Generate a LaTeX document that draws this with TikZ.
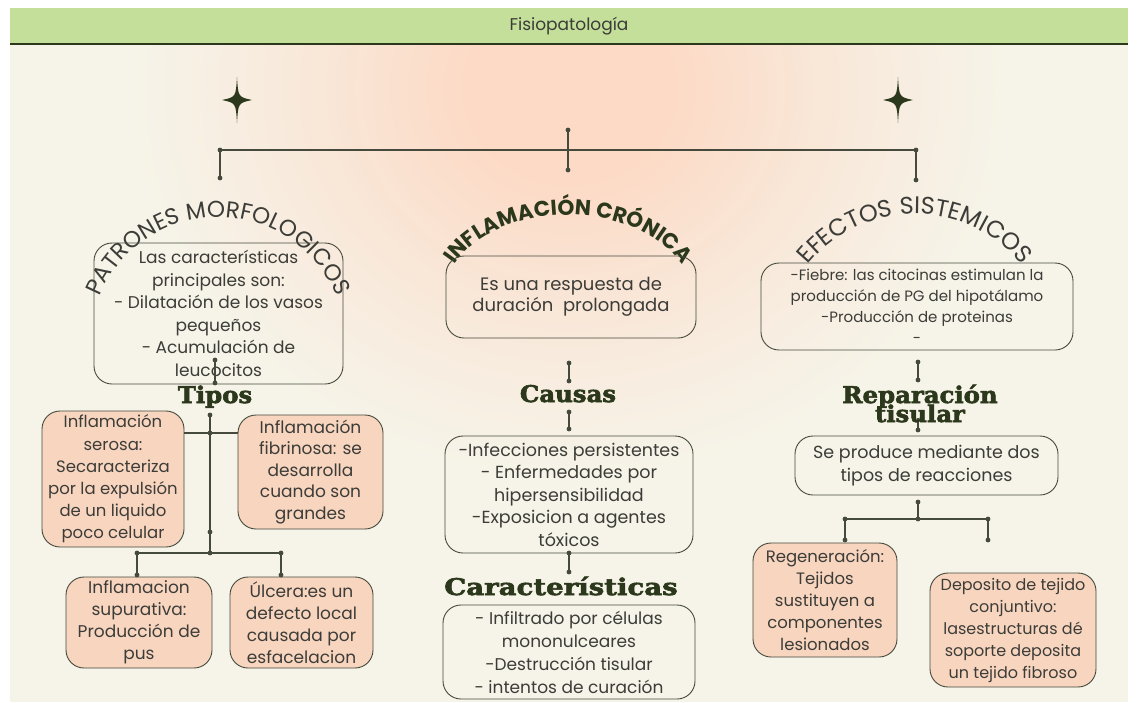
\documentclass[tikz,border=0pt]{standalone}
\usepackage{fontspec}
\setmainfont{Poppins}
\newfontfamily\headfont{DejaVu Serif Bold}[FakeBold=2.5, FakeStretch=1.06]
\newfontfamily\headwide{DejaVu Serif Bold}[FakeBold=2.5, FakeStretch=1.2]
\newfontfamily\arcfont{Poppins}
\newcommand\tightlns{\lineskiplimit=-100pt\relax}
\usetikzlibrary{decorations.text}
\definecolor{cream}{HTML}{F6F3E8}
\definecolor{peachbg}{HTML}{FCDAC6}
\definecolor{barg}{HTML}{C4DF9A}
\definecolor{darkg}{HTML}{2B381B}
\definecolor{boxfill}{HTML}{F8D5BF}
\definecolor{linec}{HTML}{454A3C}
\definecolor{txt}{HTML}{3C3C38}
\begin{document}
\begin{tikzpicture}[x=1pt,y=-1pt,
  tbox/.style={draw=linec, line width=0.9pt, rounded corners=18pt, align=center, text=txt, inner sep=0pt, font=\fontsize{17}{22.5}\selectfont},
  pbox/.style={tbox, fill=boxfill},
  head/.style={font={\headfont\fontsize{23}{19}\selectfont\tightlns}, text=darkg, align=center, inner sep=0pt, anchor=base},
  conn/.style={draw=linec, line width=1.3pt},
  jdot/.style={fill=linec},
]
\useasboundingbox (0,0) rectangle (1138,702);
\fill[white] (0,0) rectangle (1138,702);
\fill[cream] (10,44) rectangle (1128,702);
\begin{scope}
\clip (10,44) rectangle (1128,702);
\foreach \i in {0,...,49} {
  \pgfmathsetmacro\f{1-\i/50}
  \pgfmathsetmacro\p{min(100,100*(\i/38)^1.3)}
  \fill[peachbg!\p!cream] (570,90) ellipse [x radius=450*\f, y radius=400*\f];
}
\end{scope}
\fill[barg] (10,8) rectangle (1128,43);
\draw[darkg, line width=2pt] (10,44) -- (1128,44);
\node[font=\fontsize{17}{20}\selectfont, text=txt] (title) at (569,26) {Fisiopatología};

% stars
\foreach \sx in {237,898} {
  \fill[darkg, shift={(\sx,100)}] (0,-23) .. controls (1.2,-3) .. (15,0) .. controls (1.2,3) .. (0,23) .. controls (-1.2,3) .. (-15,0) .. controls (-1.2,-3) .. (0,-23) -- cycle;
}

% curved titles
\path[decorate, decoration={text along path, text align=center, text={|\arcfont\fontsize{23}{23}\selectfont\color{txt}|PATRONES MORFOLOGICOS}}] (218,345) ++(186:128) arc[start angle=186, end angle=354, radius=128];
\path[decorate, decoration={text along path, text align=center, text={|\arcfont\bfseries\fontsize{21.5}{21.5}\selectfont\color{darkg}|INFLAMACIÓN CRÓNICA}}] (568,300) ++(192:125 and 85) arc[start angle=192, end angle=348, x radius=125, y radius=85];
\path[decorate, decoration={text along path, text align=center, text={|\arcfont\fontsize{24}{24}\selectfont\color{txt}|EFECTOS SISTEMICOS}}] (915,352) ++(200:138) arc[start angle=200, end angle=340, radius=138];

% boxes
\node[tbox, minimum width=249pt, minimum height=141pt] (patr) at (218.5,313.5) {Las características\\principales son:\\- Dilatación de los vasos\\pequeños\\- Acumulación de\\leucocitos};
\node[pbox, minimum width=142pt, minimum height=136pt, font=\fontsize{16.5}{22.2}\selectfont] (serosa) at (113,479) {Inflamación\\serosa:\\Secaracteriza\\por la expulsión\\de un liquido\\poco celular};
\node[pbox, minimum width=145pt, minimum height=114pt, font=\fontsize{17}{21.5}\selectfont] (fibrinosa) at (310.5,472) {Inflamación\\fibrinosa: se\\desarrolla\\cuando son\\grandes};
\node[pbox, minimum width=146pt, minimum height=91pt, font=\fontsize{17}{22}\selectfont] (supur) at (139,622.5) {Inflamacion\\supurativa:\\Producción de\\pus};
\node[pbox, minimum width=143pt, minimum height=91pt, font=\fontsize{17}{22}\selectfont] (ulcera) at (301.5,622.5) {Úlcera:es un\\defecto local\\causada por\\esfacelacion};

\node[tbox, minimum width=250pt, minimum height=82pt, font=\fontsize{18}{21.5}\selectfont] (resp) at (571,297) {Es una respuesta de\\duración\ \ prolongada};
\node[tbox, minimum width=248pt, minimum height=117pt, font=\fontsize{17.5}{22.5}\selectfont] (causbox) at (569,494.5) {-Infecciones persistentes\\- Enfermedades por\\hipersensibilidad\\-Exposicion a agentes\\tóxicos};
\node[tbox, minimum width=252pt, minimum height=94pt, font=\fontsize{17}{23}\selectfont] (carbox) at (569,652) {- Infiltrado por células\\mononulceares\\-Destrucción tisular\\- intentos de curación};

\node[tbox, minimum width=312pt, minimum height=87pt, font=\fontsize{15}{21}\selectfont] (efbox) at (917,306.5) {-Fiebre: las citocinas estimulan la\\producción de PG del hipotálamo\\-Producción de proteinas\\-};
\node[tbox, minimum width=263pt, minimum height=59pt, font=\fontsize{17.5}{23}\selectfont] (seprod) at (926.5,465.5) {Se produce mediante dos\\tipos de reacciones};
\node[pbox, minimum width=144pt, minimum height=114pt, font=\fontsize{16.5}{22}\selectfont] (regen) at (825,600) {Regeneración:\\Tejidos\\sustituyen a\\componentes\\lesionados};
\node[pbox, minimum width=166pt, minimum height=114pt, font=\fontsize{16}{22}\selectfont] (depos) at (1013,630) {Deposito de tejido\\conjuntivo:\\lasestructuras dé\\soporte deposita\\un tejido fibroso};

% connectors
\coordinate (t0) at (568,130); \coordinate (t1) at (568,170);
\coordinate (hL) at (220,150); \coordinate (hR) at (916,150);
\coordinate (dL) at (220,178); \coordinate (dR) at (916,180);
\coordinate (p1) at (215,360); \coordinate (p2) at (215,383);
\coordinate (s0) at (210,415); \coordinate (s1) at (210,433); \coordinate (s2) at (210,532); \coordinate (s3) at (210,553);
\coordinate (b1) at (137,553); \coordinate (b2) at (281,553); \coordinate (b1d) at (137,575); \coordinate (b2d) at (281,575);
\coordinate (m1) at (569,363); \coordinate (m2) at (569,381); \coordinate (m3) at (569,412); \coordinate (m4) at (569,429); \coordinate (m5) at (569,553); \coordinate (m6) at (569,572);
\coordinate (r1) at (918,362); \coordinate (r2) at (918,380); \coordinate (r3) at (918,418); \coordinate (r4) at (918,430);
\coordinate (r5) at (918,502); \coordinate (r6) at (918,519);
\coordinate (q1) at (845,519); \coordinate (q2) at (988,519); \coordinate (q1d) at (845,540); \coordinate (q2d) at (988,540);

\draw[conn] (t0) -- (t1); \draw[conn] (hL) -- (hR); \draw[conn] (hL) -- (dL); \draw[conn] (hR) -- (dR);
\draw[conn] (p1) -- (p2); \draw[conn] (s0) -- (s3);
\draw[conn] (serosa.east |- s1) -- (fibrinosa.west |- s1);
\draw[conn] (b1) -- (b2); \draw[conn] (b1) -- (b1d); \draw[conn] (b2) -- (b2d);
\draw[conn] (m1) -- (m2); \draw[conn] (m3) -- (m4); \draw[conn] (m5) -- (m6);
\draw[conn] (r1) -- (r2); \draw[conn] (r3) -- (r4); \draw[conn] (r5) -- (r6);
\draw[conn] (q1) -- (q2); \draw[conn] (q1) -- (q1d); \draw[conn] (q2) -- (q2d);
\foreach \c in {t0,t1,hL,hR,dL,dR,p1,p2,s0,s1,s2,s3,b1,b2,b1d,b2d,m1,m2,m3,m4,m5,m6,r1,r2,r4,r5,r6,q1,q2,q1d,q2d}
  \fill[jdot] (\c) circle (2.4);

% headings
\node[head] (tipos) at (215,403) {Tipos};
\node[head] (causas) at (568,402) {Causas};
\node[head, font={\headwide\fontsize{23}{19}\selectfont}] (caracts) at (561,595) {Características};
\node[head] (repar) at (920,422) {Reparación\\tisular};
\end{tikzpicture}
\end{document}
